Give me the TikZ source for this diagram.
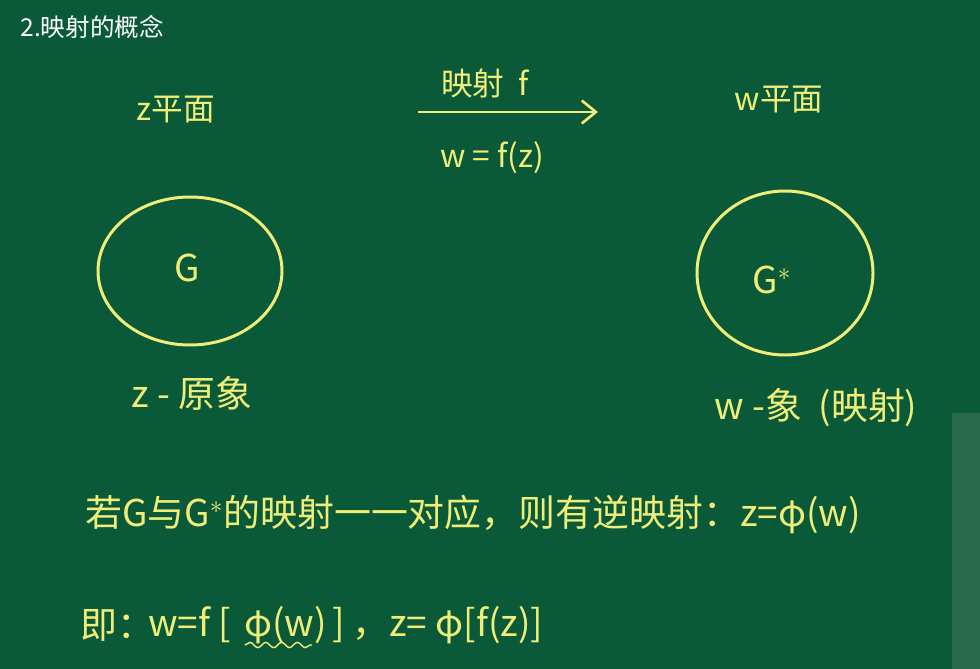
\documentclass[tikz,border=0pt]{standalone}
\usepackage{fontspec}
\setmainfont{Noto Sans CJK SC}
\usetikzlibrary{arrows.meta,decorations.pathmorphing}
\definecolor{board}{RGB}{10,90,58}
\definecolor{chalk}{RGB}{240,238,120}
\definecolor{strip}{RGB}{40,104,76}
\tikzset{
  chalktext/.style={text=chalk,inner sep=0pt,font=\fontsize{21}{25}\selectfont},
  midtext/.style={text=chalk,inner sep=0pt,font=\fontsize{18}{21}\selectfont},
  region/.style={draw=chalk,line width=1.7pt},
}
\begin{document}
\begin{tikzpicture}[x=0.02cm,y=-0.02cm]
\fill[board] (0,0) rectangle (980,669);
\useasboundingbox (0,0) rectangle (980,669);
\fill[strip] (952,413) rectangle (980,669);
\node[anchor=west,text=white,inner sep=0pt,font=\fontsize{14}{17}\selectfont] (title) at (20,27) {2.映射的概念};
\node[midtext] (zplane) at (176,110) {z平面};
\node[midtext] (wplane) at (779,100) {w平面};
\node[midtext] (maplabel) at (485,84) {映射\ \ f};
\coordinate (arrS) at (418,112);
\coordinate (arrE) at (598,112);
\draw[chalk,line width=1.5pt,-{Straight Barb[length=8pt,width=13pt]}] (arrS) -- (arrE);
\node[midtext] (wfz) at (492,158) {w = f(z)};
\draw[region] (190,271) ellipse [x radius=92, y radius=74];
\node[chalktext] (G) at (187,268) {G};
\draw[region] (785,273) ellipse [x radius=88, y radius=82];
\node[chalktext] (Gs) at (772,280) {G$^{*}$};
\node[chalktext] (zpre) at (192,393) {z - 原象};
\node[chalktext] (wimg) at (816,408) {w -象\ \ (映射)};
\node[chalktext,anchor=west] (line1) at (85,515) {若G与G$^{*}$的映射一一对应，则有逆映射：z=φ(w)};
\node[chalktext,anchor=west] (l2a) at (80,625) {即：};
\node[chalktext,anchor=west] (l2b) at (148,625) {w=f [};
\node[chalktext,anchor=west] (l2c) at (244,625) {φ(w)};
\node[chalktext,anchor=west] (l2d) at (332,625) {]};
\node[chalktext,anchor=west] (l2e) at (352,625) {，z= φ[f(z)]};
\draw[chalk,line width=0.8pt,decorate,decoration={snake,amplitude=1.5pt,segment length=9pt}] (245,645) -- (312,645);
\end{tikzpicture}
\end{document}
